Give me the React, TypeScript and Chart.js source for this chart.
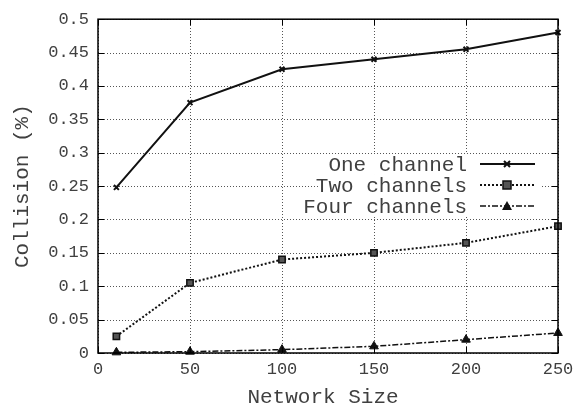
import React, { useEffect, useRef } from "react";
import { Chart, registerables } from "chart.js";

Chart.register(...registerables);

const networkSizes = [10, 50, 100, 150, 200, 250];
const oneChannel = [0.248, 0.375, 0.425, 0.44, 0.455, 0.48];
const twoChannels = [0.025, 0.105, 0.14, 0.15, 0.165, 0.19];
const fourChannels = [0.001, 0.002, 0.005, 0.01, 0.02, 0.03];
const seriesNames = ["One channel", "Two channels", "Four channels"];
const xTitle = "Network Size";
const yTitle = "Collision (%)";

const FONT = "'Liberation Mono', 'DejaVu Sans Mono', monospace";
const TEXT = "#404040";

const dottedGrid = {
  id: "dottedGrid",
  beforeDatasetsDraw(chart: any) {
    const { ctx, chartArea: a, scales } = chart;
    ctx.save();
    ctx.strokeStyle = "#555";
    ctx.lineWidth = 1;
    ctx.setLineDash([1, 2]);
    scales.x.ticks.forEach((t: any) => {
      const x = Math.round(scales.x.getPixelForValue(t.value)) + 0.5;
      ctx.beginPath();
      ctx.moveTo(x, a.bottom);
      ctx.lineTo(x, a.top);
      ctx.stroke();
    });
    scales.y.ticks.forEach((t: any) => {
      const y = Math.round(scales.y.getPixelForValue(t.value)) + 0.5;
      ctx.beginPath();
      ctx.moveTo(a.left, y);
      ctx.lineTo(a.right, y);
      ctx.stroke();
    });
    ctx.restore();
  },
};

const innerTicks = {
  id: "innerTicks",
  afterDatasetsDraw(chart: any) {
    const { ctx, chartArea: a, scales } = chart;
    ctx.save();
    ctx.strokeStyle = "#000";
    ctx.lineWidth = 1;
    const L = 6;
    scales.x.ticks.forEach((t: any) => {
      const x = Math.round(scales.x.getPixelForValue(t.value)) + 0.5;
      ctx.beginPath();
      ctx.moveTo(x, a.bottom);
      ctx.lineTo(x, a.bottom - L);
      ctx.moveTo(x, a.top);
      ctx.lineTo(x, a.top + L);
      ctx.stroke();
    });
    scales.y.ticks.forEach((t: any) => {
      const y = Math.round(scales.y.getPixelForValue(t.value)) + 0.5;
      ctx.beginPath();
      ctx.moveTo(a.left, y);
      ctx.lineTo(a.left + L, y);
      ctx.moveTo(a.right, y);
      ctx.lineTo(a.right - L, y);
      ctx.stroke();
    });
    ctx.lineWidth = 1.5;
    ctx.strokeRect(a.left, a.top, a.right - a.left, a.bottom - a.top);

    // axis titles
    ctx.font = `21px ${FONT}`;
    ctx.fillStyle = TEXT;
    ctx.textAlign = "center";
    ctx.textBaseline = "middle";
    ctx.fillText(xTitle, (a.left + a.right) / 2 - 5, 397);
    ctx.translate(22, (a.top + a.bottom) / 2);
    ctx.rotate(-Math.PI / 2);
    ctx.fillText(yTitle, 0, 0);
    ctx.restore();
  },
};

const customLegend = {
  id: "customLegend",
  afterDatasetsDraw(chart: any) {
    const { ctx } = chart;
    ctx.save();
    ctx.font = `21px ${FONT}`;
    ctx.textAlign = "right";
    ctx.textBaseline = "middle";
    const ys = [164, 185, 206];
    chart.data.datasets.forEach((ds: any, i: number) => {
      const y = ys[i];
      ctx.fillStyle = "#fff";
      ctx.fillRect(318, y - 10, 224, 20);
      ctx.fillStyle = TEXT;
      ctx.fillText(ds.label, 467, y + 1);
      ctx.strokeStyle = "#111";
      ctx.lineWidth = ds.borderWidth;
      ctx.setLineDash(ds.borderDash || []);
      ctx.beginPath();
      ctx.moveTo(480, y);
      ctx.lineTo(535, y);
      ctx.stroke();
      ctx.setLineDash([]);
      const mx = 507;
      ctx.lineWidth = 1.5;
      if (ds.pointStyle === "crossRot") {
        ctx.lineWidth = 2;
        ctx.beginPath();
        ctx.moveTo(mx - 3, y - 3);
        ctx.lineTo(mx + 3, y + 3);
        ctx.moveTo(mx + 3, y - 3);
        ctx.lineTo(mx - 3, y + 3);
        ctx.stroke();
      } else if (ds.pointStyle === "rect") {
        ctx.fillStyle = "#555";
        ctx.fillRect(mx - 4, y - 4, 8, 8);
        ctx.strokeRect(mx - 4, y - 4, 8, 8);
      } else {
        ctx.fillStyle = "#111";
        ctx.beginPath();
        ctx.moveTo(mx, y - 5);
        ctx.lineTo(mx + 5, y + 4);
        ctx.lineTo(mx - 5, y + 4);
        ctx.closePath();
        ctx.fill();
      }
    });
    ctx.restore();
  },
};

export default function App() {
  const ref = useRef<HTMLCanvasElement>(null);
  useEffect(() => {
    document.body.style.margin = "0";
    const toPts = (vals: number[]) => vals.map((v, i) => ({ x: networkSizes[i], y: v }));
    const chart = new Chart(ref.current!, {
      type: "line",
      data: {
        datasets: [
          {
            label: seriesNames[0],
            data: toPts(oneChannel),
            borderColor: "#111",
            backgroundColor: "#111",
            borderWidth: 2,
            pointStyle: "crossRot",
            pointRadius: 3.5,
            pointBorderWidth: 2,
          },
          {
            label: seriesNames[1],
            data: toPts(twoChannels),
            borderColor: "#111",
            backgroundColor: "#555",
            borderWidth: 2,
            borderDash: [2, 2],
            pointStyle: "rect",
            pointRadius: 4.5,
            pointBorderWidth: 1.5,
          },
          {
            label: seriesNames[2],
            data: toPts(fourChannels),
            borderColor: "#111",
            backgroundColor: "#111",
            borderWidth: 1.5,
            borderDash: [6, 2, 2, 2],
            pointStyle: "triangle",
            pointRadius: 5,
            pointBorderWidth: 1,
          },
        ],
      },
      options: {
        responsive: false,
        animation: false,
        clip: false,
        layout: { padding: { top: 16, right: 28, left: 6, bottom: 0 } },
        plugins: { legend: { display: false }, tooltip: { enabled: false } },
        scales: {
          x: {
            type: "linear",
            min: 0,
            max: 250,
            ticks: { stepSize: 50, color: TEXT, font: { family: FONT, size: 17 }, padding: 6 },
            grid: { display: false, drawTicks: false, tickLength: 0 },
            border: { display: false },
            title: { display: false, text: xTitle },
            afterFit: (s: any) => { s.height = 58; },
          },
          y: {
            min: 0,
            max: 0.5,
            ticks: {
              stepSize: 0.05,
              color: TEXT,
              font: { family: FONT, size: 17 },
              padding: 9,
              callback: (v: any) => String(parseFloat(Number(v).toFixed(2))),
            },
            grid: { display: false, drawTicks: false, tickLength: 0 },
            border: { display: false },
            title: { display: false, text: yTitle },
            afterFit: (s: any) => { s.width = 92; },
          },
        },
      },
      plugins: [dottedGrid, innerTicks, customLegend],
    });
    return () => chart.destroy();
  }, []);
  return <canvas ref={ref} width={586} height={411} style={{ display: "block" }} />;
}
